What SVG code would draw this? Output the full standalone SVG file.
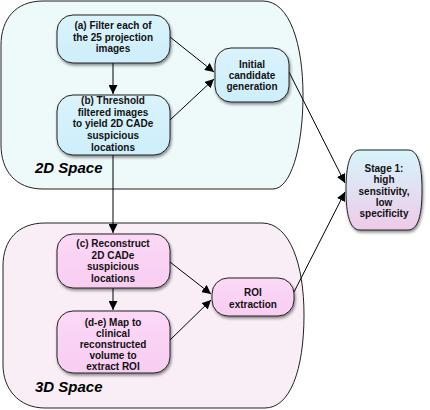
<svg xmlns="http://www.w3.org/2000/svg" width="430" height="410" viewBox="0 0 430 410">
<defs>
<linearGradient id="gStage" x1="0" y1="0" x2="0" y2="1">
<stop offset="0" stop-color="#d6f4fc"/>
<stop offset="1" stop-color="#eecbe8"/>
</linearGradient>
<linearGradient id="gBlue" x1="0" y1="0" x2="0" y2="1">
<stop offset="0" stop-color="#daf3fc"/>
<stop offset="1" stop-color="#cdeefb"/>
</linearGradient>
<linearGradient id="gPink" x1="0" y1="0" x2="0" y2="1">
<stop offset="0" stop-color="#fcd8f6"/>
<stop offset="1" stop-color="#f8cdf2"/>
</linearGradient>
<filter id="sh" x="-20%" y="-20%" width="140%" height="150%">
<feDropShadow dx="1" dy="2" stdDeviation="1.5" flood-color="#000" flood-opacity="0.45"/>
</filter>
<marker id="ah" viewBox="0 0 10 10" refX="10" refY="5" markerWidth="9" markerHeight="9" markerUnits="userSpaceOnUse" orient="auto">
<path d="M0,0 L10,5 L0,10 z" fill="#000"/>
</marker>
<style>
.cont{stroke:#222;stroke-width:1}
.node{stroke:#222;stroke-width:1;filter:url(#sh)}
.t{font-family:"Liberation Sans",Arial,sans-serif;font-weight:bold;font-size:10px;fill:#111;text-anchor:middle}
.lbl{font-family:"Liberation Sans",Arial,sans-serif;font-weight:bold;font-style:italic;font-size:15px;fill:#000}
.c{stroke:#000;stroke-width:1;fill:none;marker-end:url(#ah)}
</style>
</defs>

<g id="space2d">
<path class="cont" fill="#eef9fa" d="M43,1 H263 C290,1 303,45 303,95 C303,150 290,189 273,189 H43 C15,189 1,170 1,145 V45 C1,20 15,1 43,1 Z"/>
<text class="lbl" x="35" y="173">2D Space</text>
</g>
<g id="space3d">
<path class="cont" fill="#f9eef6" d="M45,223 H262 C290,223 304,265 304,315 C304,370 290,408 265,408 H45 C18,408 3,388 3,365 V266 C3,240 18,223 45,223 Z"/>
<text class="lbl" x="35" y="392">3D Space</text>
</g>

<g id="connectors">
<line class="c" x1="113" y1="63" x2="113" y2="94"/>
<line class="c" x1="170" y1="37" x2="214" y2="72"/>
<line class="c" x1="170" y1="120" x2="214" y2="79"/>
<line class="c" x1="113" y1="155" x2="113" y2="233"/>
<line class="c" x1="113" y1="288" x2="113" y2="310"/>
<line class="c" x1="170" y1="262" x2="211" y2="294"/>
<line class="c" x1="170" y1="340" x2="211" y2="300"/>
<line class="c" x1="289" y1="72" x2="345" y2="183"/>
<line class="c" x1="294" y1="292" x2="345" y2="192"/>
</g>

<g id="nodeA">
<rect class="node" fill="url(#gBlue)" x="57" y="15" width="113" height="48" rx="16" ry="16"/>
<text class="t" x="113" y="29">(a) Filter each of</text>
<text class="t" x="113" y="40.7">the 25 projection</text>
<text class="t" x="113" y="52.4">images</text>
</g>
<g id="nodeB">
<rect class="node" fill="url(#gBlue)" x="57" y="95" width="113" height="60" rx="16" ry="16"/>
<text class="t" x="113" y="104">(b) Threshold</text>
<text class="t" x="113" y="115.7">filtered images</text>
<text class="t" x="113" y="127.4">to yield 2D CADe</text>
<text class="t" x="113" y="139.1">suspicious</text>
<text class="t" x="113" y="150.8">locations</text>
</g>
<g id="nodeInit">
<rect class="node" fill="url(#gBlue)" x="215" y="48" width="74" height="54" rx="16" ry="16"/>
<text class="t" x="252" y="68">Initial</text>
<text class="t" x="252" y="79">candidate</text>
<text class="t" x="252" y="90">generation</text>
</g>
<g id="nodeC">
<rect class="node" fill="url(#gPink)" x="57" y="234" width="113" height="54" rx="16" ry="16"/>
<text class="t" x="113" y="247">(c) Reconstruct</text>
<text class="t" x="113" y="258.5">2D CADe</text>
<text class="t" x="113" y="270">suspicious</text>
<text class="t" x="113" y="281.5">locations</text>
</g>
<g id="nodeD">
<rect class="node" fill="url(#gPink)" x="57" y="311" width="113" height="62" rx="16" ry="16"/>
<text class="t" x="113" y="325.5">(d-e) Map to</text>
<text class="t" x="113" y="336.5">clinical</text>
<text class="t" x="113" y="347.5">reconstructed</text>
<text class="t" x="113" y="358.5">volume to</text>
<text class="t" x="113" y="369.5">extract ROI</text>
</g>
<g id="nodeROI">
<rect class="node" fill="url(#gPink)" x="212" y="278" width="82" height="38" rx="16" ry="16"/>
<text class="t" x="253" y="296">ROI</text>
<text class="t" x="253" y="308">extraction</text>
</g>
<g id="nodeStage">
<path class="node" fill="url(#gStage)" d="M360,150 H408 C418,150 422,165 422,190 C422,215 418,230 408,230 H360 C350,230 346,215 346,190 C346,165 350,150 360,150 Z"/>
<text class="t" x="384" y="172">Stage 1:</text>
<text class="t" x="384" y="183.3">high</text>
<text class="t" x="384" y="194.6">sensitivity,</text>
<text class="t" x="384" y="205.9">low</text>
<text class="t" x="384" y="217.2">specificity</text>
</g>
</svg>
